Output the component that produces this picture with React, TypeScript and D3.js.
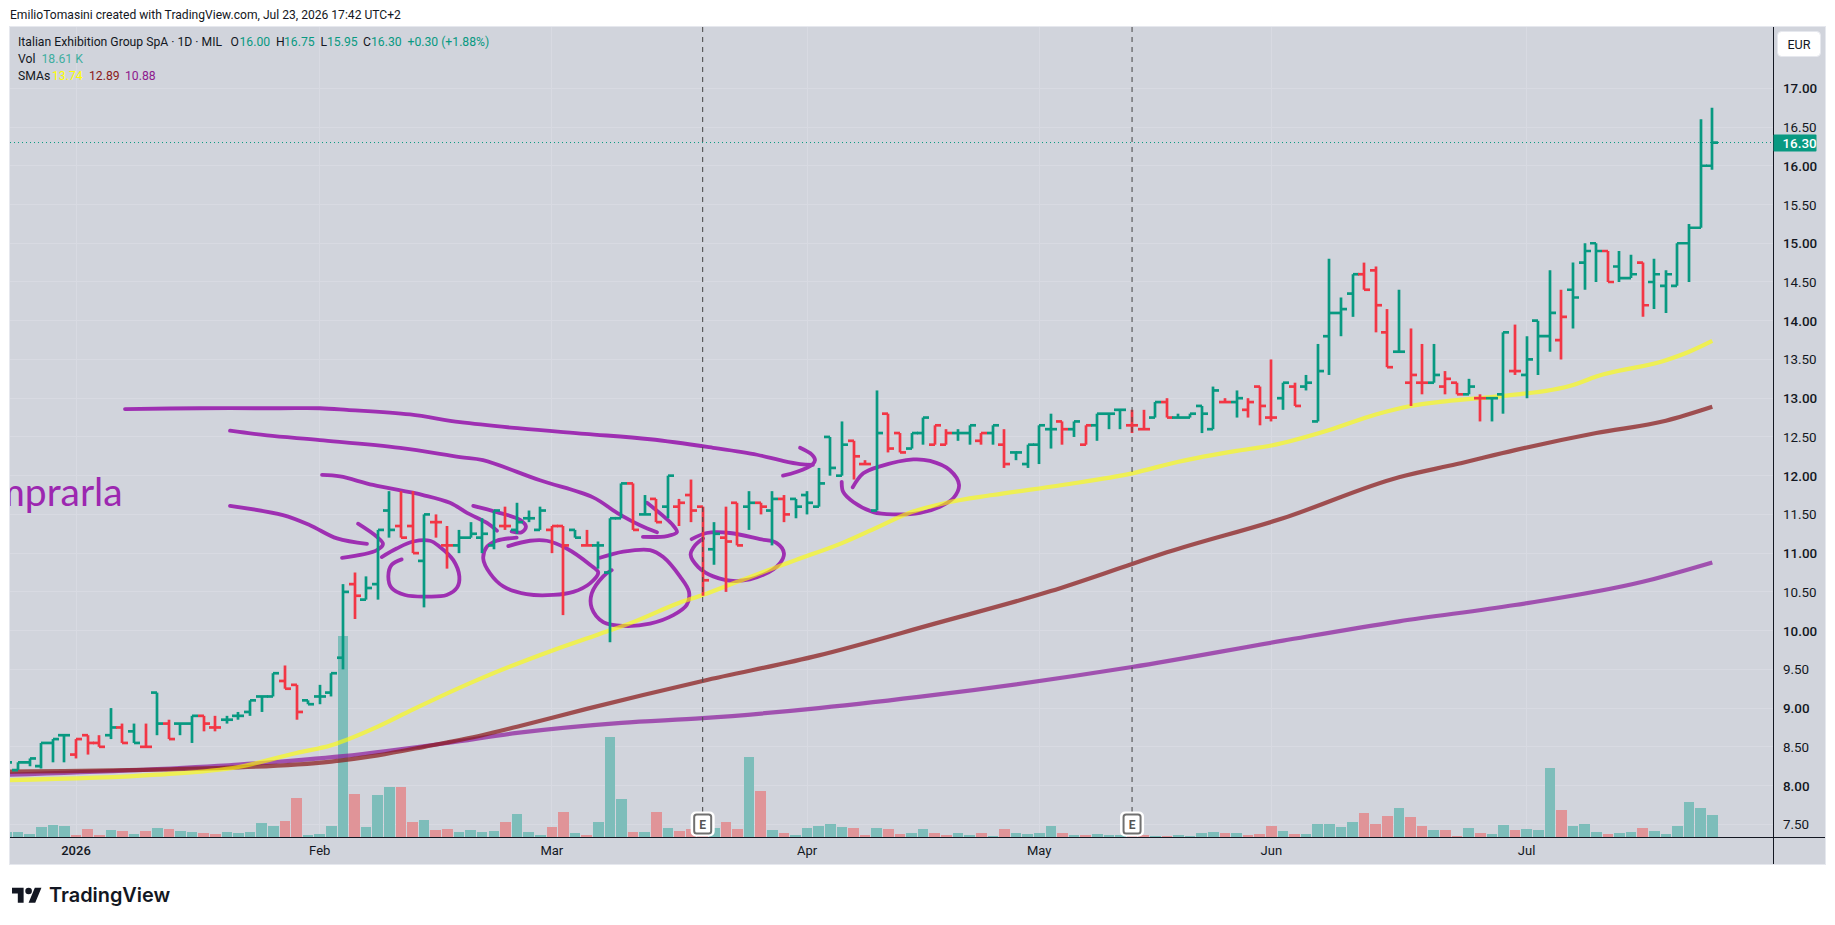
import React from "react";
import * as d3 from "d3";

const opens = [8.25,8.2,8.3,8.25,8.55,8.65,8.4,8.65,8.55,8.65,8.75,8.7,8.5,9.2,8.8,8.8,8.8,8.9,8.75,8.85,8.9,8.95,9.15,9.15,9.35,9.3,9.1,9.15,9.2,9.65,10.6,10.4,10.6,11.55,11.35,11.35,10.9,11.4,11.1,11.1,11.2,11.2,11.1,11.35,11.3,11.45,11.3,11.3,11.35,11.3,11.1,11.1,10.75,11.45,11.9,11.5,11.7,11.6,11.6,11.75,11.6,11.05,11.2,11.65,11.6,11.65,11.55,11.7,11.7,11.75,11.6,12.5,12.0,12.45,12.15,11.55,12.8,12.55,12.35,12.55,12.4,12.4,12.55,12.55,12.45,12.55,12.4,12.3,12.15,12.4,12.6,12.7,12.6,12.4,12.65,12.8,12.85,12.65,12.6,12.75,12.95,12.75,12.75,12.9,12.6,12.95,12.95,12.85,13.15,12.75,13.0,13.15,13.15,12.7,13.8,14.1,14.35,14.6,14.65,13.85,13.6,13.2,13.2,13.2,13.15,13.2,13.05,13.0,13.0,13.05,13.35,13.3,14.0,13.8,13.75,14.4,14.75,15.0,14.9,14.7,14.55,14.75,14.5,14.45,14.45,15.0,15.2,16.0];
const highs = [8.35,8.3,8.35,8.55,8.6,8.65,8.6,8.65,8.65,9.0,8.8,8.8,8.8,9.2,8.85,8.8,8.9,8.9,8.9,8.9,8.95,9.1,9.15,9.45,9.55,9.3,9.1,9.3,9.45,10.6,10.75,10.7,11.3,11.8,11.8,11.8,11.5,11.5,11.35,11.3,11.4,11.45,11.55,11.6,11.65,11.55,11.6,11.35,11.35,11.3,11.3,11.15,11.45,11.9,11.9,11.75,11.7,12.0,11.7,11.95,11.6,11.4,11.6,11.65,11.8,11.65,11.8,11.75,11.7,11.8,12.1,12.5,12.7,12.45,12.2,13.1,12.8,12.55,12.55,12.75,12.65,12.6,12.6,12.65,12.55,12.65,12.6,12.3,12.4,12.65,12.8,12.7,12.7,12.65,12.8,12.8,12.85,12.85,12.85,12.95,13.0,12.8,12.8,12.9,13.15,13.0,13.1,13.0,13.15,13.5,13.2,13.2,13.3,13.7,14.8,14.3,14.6,14.75,14.7,14.15,14.4,13.9,13.7,13.7,13.35,13.2,13.25,13.05,13.0,13.85,13.95,13.8,14.0,14.65,14.4,14.75,15.0,15.0,14.9,14.9,14.85,14.75,14.8,14.65,15.0,15.25,16.6,16.75];
const lows = [8.2,8.2,8.25,8.22,8.3,8.3,8.35,8.4,8.5,8.6,8.55,8.55,8.5,8.65,8.6,8.65,8.55,8.7,8.7,8.8,8.85,8.9,8.95,9.15,9.25,8.85,9.05,9.05,9.15,9.5,10.15,10.4,10.4,11.2,11.2,11.0,10.3,11.2,10.8,11.0,11.2,11.0,11.05,11.3,11.25,11.4,11.3,11.0,10.2,11.2,11.1,10.8,9.85,11.45,11.3,11.5,11.4,11.45,11.35,11.4,10.45,10.85,10.5,11.1,11.3,11.5,11.1,11.4,11.45,11.5,11.6,12.0,12.0,11.95,12.15,11.55,12.3,12.3,12.35,12.4,12.4,12.4,12.45,12.4,12.4,12.4,12.1,12.2,12.1,12.15,12.35,12.4,12.5,12.4,12.45,12.6,12.6,12.55,12.6,12.75,12.75,12.75,12.75,12.55,12.6,12.95,12.75,12.75,12.65,12.7,12.85,12.9,13.1,12.7,13.3,13.8,14.05,14.4,13.85,13.4,13.6,12.9,13.05,13.2,13.05,13.05,13.05,12.7,12.7,12.8,13.3,13.0,13.3,13.6,13.5,13.9,14.4,14.5,14.5,14.5,14.55,14.05,14.15,14.1,14.45,14.5,15.2,15.95];
const closes = [8.3,8.3,8.35,8.55,8.6,8.65,8.6,8.55,8.5,8.75,8.55,8.55,8.5,8.8,8.6,8.8,8.9,8.8,8.75,8.85,8.9,9.1,9.15,9.45,9.25,8.95,9.05,9.15,9.45,10.5,10.45,10.55,11.3,11.3,11.2,11.0,11.5,11.4,11.1,11.2,11.25,11.25,11.55,11.35,11.4,11.45,11.55,11.35,11.1,11.2,11.1,11.1,11.45,11.9,11.3,11.5,11.4,12.0,11.65,11.55,10.65,11.25,11.15,11.1,11.65,11.6,11.7,11.5,11.6,11.65,11.9,12.1,12.4,12.25,12.15,12.55,12.35,12.3,12.55,12.75,12.65,12.55,12.55,12.65,12.55,12.65,12.15,12.3,12.4,12.65,12.6,12.6,12.7,12.65,12.8,12.8,12.85,12.65,12.6,12.95,12.75,12.75,12.8,12.8,13.1,12.95,13.0,12.95,12.9,12.75,13.2,12.9,13.2,13.35,14.1,14.15,14.6,14.4,14.2,13.4,13.6,13.3,13.2,13.3,13.25,13.05,13.15,13.0,13.0,13.85,13.35,13.5,13.8,14.1,14.05,14.3,14.9,14.9,14.5,14.55,14.6,14.2,14.6,14.6,15.0,15.2,16.0,16.3];
const directions = "uuuuuudddu" + "dududuuddu" + "uuuudduuuu" + "duuudduddu" + "uuuduuuddu" + "duuudududd" + "duddududuu" + "uuuddudduu" + "dduududuuu" + "ududuuuddu" + "duuuududdd" + "uduuuuuddd" + "uddudduduu" + "duuuduuudu" + "uduuuuuu";
const volumes = [4.4,4.4,2.8,8.6,10.3,9.4,1.9,6.9,1.9,6.1,5.3,2.8,5.3,7.8,6.9,5.3,4.4,3.6,2.8,4.4,3.6,4.4,11.9,9.4,13.6,32.8,1.9,2.8,9.4,168.3,36.1,8.6,35.3,41.9,41.9,12.8,14.4,6.1,6.9,4.4,6.1,4.4,5.3,12.8,19.4,4.4,1.9,8.6,21.1,3.6,1.9,12.8,83.6,31.9,4.4,4.4,21.1,7.8,5.3,6.9,1.9,7.8,12.8,6.9,66.9,38.6,6.1,3.6,1.9,7.8,9.4,11.1,8.6,7.8,1.9,7.8,6.9,2.8,3.6,6.9,3.6,1.9,3.6,1.9,3.6,1.1,6.9,3.6,2.8,3.6,9.4,3.6,1.9,1.9,2.8,1.9,1.9,1.9,1.9,1.1,1.1,1.9,1.1,3.6,4.4,3.6,3.6,1.9,2.8,9.4,5.3,2.8,2.8,11.1,11.1,8.6,12.8,20.3,11.1,17.8,24.4,16.9,9.4,6.1,6.1,1.1,7.8,3.6,2.8,10.3,6.1,6.9,6.1,57.8,22.8,9.4,11.1,4.4,2.8,3.6,4.4,7.8,5.3,2.8,9.4,29.4,24.4,18.61];

const sma50 = [[0,8.07],[13,8.14],[20,8.24],[25,8.42],[28,8.52],[32,8.76],[35,8.98],[41,9.39],[47,9.74],[51,9.95],[54,10.11],[58,10.36],[60,10.46],[63,10.63],[66,10.8],[68,10.91],[72,11.13],[75,11.33],[78,11.53],[81,11.65],[85,11.75],[91,11.88],[97,12.03],[101,12.18],[106,12.32],[109,12.39],[114,12.59],[118,12.79],[121,12.9],[124,12.96],[129,13.03],[135,13.17],[137,13.28],[143,13.49],[145,13.6],[147,13.74]];
const sma100 = [[0,8.18],[20,8.235],[28,8.31],[32,8.39],[36,8.5],[41,8.65],[44,8.76],[50,8.99],[60,9.35],[70,9.68],[80,10.09],[90,10.51],[97,10.86],[100,11.01],[110,11.45],[120,11.98],[125,12.15],[130,12.33],[137,12.55],[143,12.71],[147,12.89]];
const sma200 = [[0,8.14],[20,8.27],[29,8.38],[38,8.55],[44,8.68],[53,8.81],[60,8.87],[70,9.0],[80,9.17],[97,9.53],[110,9.87],[120,10.12],[130,10.33],[141,10.63],[147,10.88]];

// freehand annotations, as [bar index, price]
const strokeA = [[10.22,12.86],[16.68,12.87],[23.58,12.87],[27.02,12.87],[29.35,12.85],[34.78,12.79],[39.09,12.69],[44.26,12.61],[49.86,12.54],[55.46,12.47],[60.89,12.36],[64.68,12.27],[66.66,12.2],[68.39,12.15],[69.5,12.14]];
const headA = [[68.39,12.36],[69.42,12.27],[69.68,12.2],[69.42,12.14],[68.13,12.05],[66.92,12.0]];
const strokeB = [[19.27,12.58],[22.46,12.52],[27.02,12.46],[33.92,12.36],[39.09,12.24],[41.07,12.2],[45.98,11.94],[50.55,11.72],[52.62,11.52],[54.6,11.36],[56.06,11.27]];
const headB = [[55.2,11.65],[57.44,11.36],[57.78,11.27],[56.92,11.22],[54.85,11.21]];
const strokeC = [[27.2,12.01],[28.75,11.99],[31.59,11.88],[35.9,11.75],[38.22,11.65],[39.69,11.52],[41.41,11.39],[42.27,11.29]];
const headC = [[40.23,11.61],[42.25,11.53],[44.26,11.43],[44.77,11.34],[44.4,11.27],[43.54,11.28]];
const strokeD = [[19.27,11.61],[23.83,11.49],[26.16,11.36],[28.49,11.19],[31.07,11.12]];
const headD = [[30.3,11.38],[31.93,11.21],[32.45,11.12],[31.93,11.04],[28.92,10.94]];
const circle1 = [[34.06,10.92],[33.2,10.85],[32.91,10.7],[33.2,10.55],[34.35,10.46],[36.22,10.44],[37.94,10.46],[38.85,10.56],[39.03,10.7],[38.51,10.91],[37.36,11.08],[36.5,11.16],[35.06,11.15],[33.63,11.06],[32.34,10.95]];
const circle2 = [[43.25,11.09],[45.12,11.16],[46.56,11.16],[48.28,11.06],[50.29,10.85],[51,10.75],[50.29,10.61],[48.85,10.5],[47.13,10.46],[44.83,10.47],[42.82,10.57],[41.67,10.74],[41.09,10.93],[41.39,11.08],[42.25,11.16],[43.97,11.2]];
const circle3 = [[51.15,10.94],[53.16,11.02],[55.46,11.04],[56.6,10.95],[58.04,10.7],[58.82,10.5],[58.62,10.33],[57.47,10.2],[55.46,10.09],[53.16,10.06],[51.43,10.11],[50.44,10.29],[50.44,10.48],[51.43,10.7],[52.16,10.78]];
const circle4 = [[59.05,11.18],[60.35,11.26],[62.35,11.26],[64.94,11.18],[66.38,11.13],[67,11.0],[66.66,10.87],[65.22,10.72],[62.93,10.64],[60.91,10.7],[59.62,10.82],[58.96,10.98],[59.34,11.1],[60.03,11.19]];
const circle5 = [[72.93,11.85],[73.84,12.03],[75.28,12.12],[78.15,12.21],[79.59,12.19],[81.31,12.07],[82.09,11.88],[81.6,11.71],[80.45,11.6],[78.73,11.52],[76.42,11.5],[74.7,11.53],[72.98,11.66],[72.11,11.79],[71.98,11.92]];
const annotations = [strokeA, headA, strokeB, headB, strokeC, headC, strokeD, headD, circle1, circle2, circle3, circle4, circle5];

const priceTicks = d3.range(7.5, 17.01, 0.5);
const monthIdx = [6, 27, 47, 69, 89, 109, 131];
const monthLabels = ["2026", "Feb", "Mar", "Apr", "May", "Jun", "Jul"];
const earningsIdx = [60, 97];
const lastPrice = 16.3;

const W = 1835, H = 925;
const panel = { l: 10, t: 27, r: 1825, b: 864 };
const axisX = 1773.5, axisY = 837.5;
const UP = "#089981", DOWN = "#f23645", VUP = "#7dbdba", VDOWN = "#e09498";
const PURPLE = "#9c27b0";
const FONT = "Roboto, 'Open Sans', sans-serif";

const x = d3.scaleLinear().domain([0, 147]).range([6.4, 1712.3]);
const y = d3.scaleLinear().domain([7.5, 17]).range([824.3, 88.3]);
const v = d3.scaleLinear().domain([0, 100]).range([axisY, axisY - 120]);
const smaLine = d3.line<number[]>().x(d => x(d[0])).y(d => y(d[1])).curve(d3.curveMonotoneX);
const handLine = d3.line<number[]>().x(d => x(d[0])).y(d => y(d[1])).curve(d3.curveCatmullRom.alpha(0.5));
const fmt = d3.format(".2f");

export default function App() {
  return (
    <svg width={W} height={H} style={{ position: "fixed", left: 0, top: 0, background: "#fff" }} fontFamily={FONT}>
      <defs>
        <clipPath id="plot"><rect x={panel.l} y={panel.t} width={axisX - panel.l} height={axisY - panel.t} /></clipPath>
      </defs>
      <text x={10} y={19} fontSize={12.1} fill="#131722">EmilioTomasini created with TradingView.com, Jul 23, 2026 17:42 UTC+2</text>
      <rect x={panel.l - 0.5} y={panel.t - 0.5} width={panel.r - panel.l + 1} height={panel.b - panel.t + 1} fill="#d1d4dc" stroke="#e6e8ee" />
      <g stroke="#d8dae2" strokeWidth={1} shapeRendering="crispEdges">
        {priceTicks.map(p => <line key={p} x1={panel.l} x2={axisX} y1={y(p)} y2={y(p)} />)}
        {monthIdx.map(i => <line key={i} x1={x(i)} x2={x(i)} y1={panel.t} y2={axisY} />)}
      </g>
      <g clipPath="url(#plot)">
        <g shapeRendering="crispEdges">
          {volumes.map((val, i) => (
            <rect key={i} x={x(i) - 5.3} width={10.6} y={v(val)} height={axisY - v(val)} fill={directions[i] === "u" ? VUP : VDOWN} />
          ))}
        </g>
        <line x1={panel.l} x2={axisX} y1={y(lastPrice)} y2={y(lastPrice)} stroke={UP} strokeWidth={1} strokeDasharray="1 3" />
        <text x={122.7} y={506} textAnchor="end" fontSize={39} fontFamily="Lato, sans-serif" fill={PURPLE}>comprarla</text>
        <g fill="none" stroke={PURPLE} strokeWidth={3.8} strokeLinecap="round" strokeLinejoin="round" opacity={0.95}>
          {annotations.map((a, i) => <path key={i} d={handLine(a) as string} />)}
        </g>
        <path d={smaLine(sma200) as string} fill="none" stroke="#8e1f9e" strokeOpacity={0.72} strokeWidth={4.2} />
        <path d={smaLine(sma100) as string} fill="none" stroke="#8b1a1a" strokeOpacity={0.72} strokeWidth={4.2} />
        <path d={smaLine(sma50) as string} fill="none" stroke="#ffff00" strokeOpacity={0.62} strokeWidth={4.2} />
        <g strokeWidth={2.7}>
          {opens.map((o, i) => {
            const c = directions[i] === "u" ? UP : DOWN;
            const px = Math.round(x(i));
            return (
              <g key={i} stroke={c}>
                <line x1={px} x2={px} y1={y(highs[i])} y2={y(lows[i])} />
                <line x1={px - 6} x2={px} y1={y(o)} y2={y(o)} />
                <line x1={px} x2={px + 6} y1={y(closes[i])} y2={y(closes[i])} />
              </g>
            );
          })}
        </g>
        {earningsIdx.map(i => (
          <line key={i} x1={x(i)} x2={x(i)} y1={panel.t} y2={812} stroke="#444" strokeWidth={1} strokeDasharray="5 5" />
        ))}
      </g>
      {earningsIdx.map(i => (
        <g key={i}>
          <rect x={x(i) - 10} y={813.5} width={20} height={21} rx={3} fill="#fff" stroke="#fff" strokeWidth={4} />
          <rect x={x(i) - 8.5} y={814.5} width={17} height={19} rx={2.5} fill="#fff" stroke="#707070" strokeWidth={2} />
          <text x={x(i)} y={829} textAnchor="middle" fontSize={12} fontWeight={700} fill="#555">E</text>
        </g>
      ))}
      <line x1={panel.l} x2={panel.r} y1={axisY} y2={axisY} stroke="#131722" strokeWidth={1} shapeRendering="crispEdges" />
      <line x1={axisX} x2={axisX} y1={panel.t} y2={panel.b} stroke="#131722" strokeWidth={1} shapeRendering="crispEdges" />

      <g fontSize={12.2} fill="#131722">
        <text x={18} y={46}>Italian Exhibition Group SpA · 1D · MIL</text>
        <text x={230.4} y={46}>O</text><text x={239.5} y={46} fill={UP}>16.00</text>
        <text x={276} y={46}>H</text><text x={284} y={46} fill={UP}>16.75</text>
        <text x={320.5} y={46}>L</text><text x={327} y={46} fill={UP}>15.95</text>
        <text x={363} y={46}>C</text><text x={371} y={46} fill={UP}>16.30</text>
        <text x={407.5} y={46} fill={UP}>+0.30 (+1.88%)</text>
        <text x={18} y={63}>Vol</text><text x={41.5} y={63} fill="#3fae9f">18.61 K</text>
        <text x={18} y={80}>SMAs</text>
        <text x={52} y={80} fill="#ffff00">13.74</text>
        <text x={89} y={80} fill="#8b1a1a">12.89</text>
        <text x={125} y={80} fill="#8e1a8e">10.88</text>
      </g>

      <g fontSize={13.4} fill="#131722">
        {priceTicks.map(p => (
          <text key={p} x={1783} y={y(p) + 5} fontWeight={p % 1 === 0 ? 500 : 400}>{fmt(p)}</text>
        ))}
      </g>
      <rect x={axisX} y={y(lastPrice) - 8} width={43} height={17} rx={1} fill={UP} />
      <text x={1782.5} y={y(lastPrice) + 5} fontSize={13.4} fontWeight={500} fill="#fff">{fmt(lastPrice)}</text>
      <rect x={1777.5} y={31.5} width={43} height={25} rx={4} fill="#fff" stroke="#e6e8ee" />
      <text x={1799} y={49} textAnchor="middle" fontSize={12.6} fill="#131722">EUR</text>

      <g fontSize={13} fill="#131722" textAnchor="middle">
        {monthIdx.map((i, k) => (
          <text key={i} x={x(i)} y={855} fontWeight={k === 0 ? 500 : 400}>{monthLabels[k]}</text>
        ))}
      </g>

      <g transform="translate(12,884.4) scale(0.83)" fill="#131722">
        <path d="M14 22H7V11H0V4h14v18zM28 22h-8l7.5-18h8L28 22z" />
        <circle cx={20} cy={8} r={4} />
      </g>
      <text x={49} y={902} fontSize={19.9} fontFamily="Inter, Roboto, sans-serif" fontWeight={600} fill="#131722">TradingView</text>
    </svg>
  );
}
